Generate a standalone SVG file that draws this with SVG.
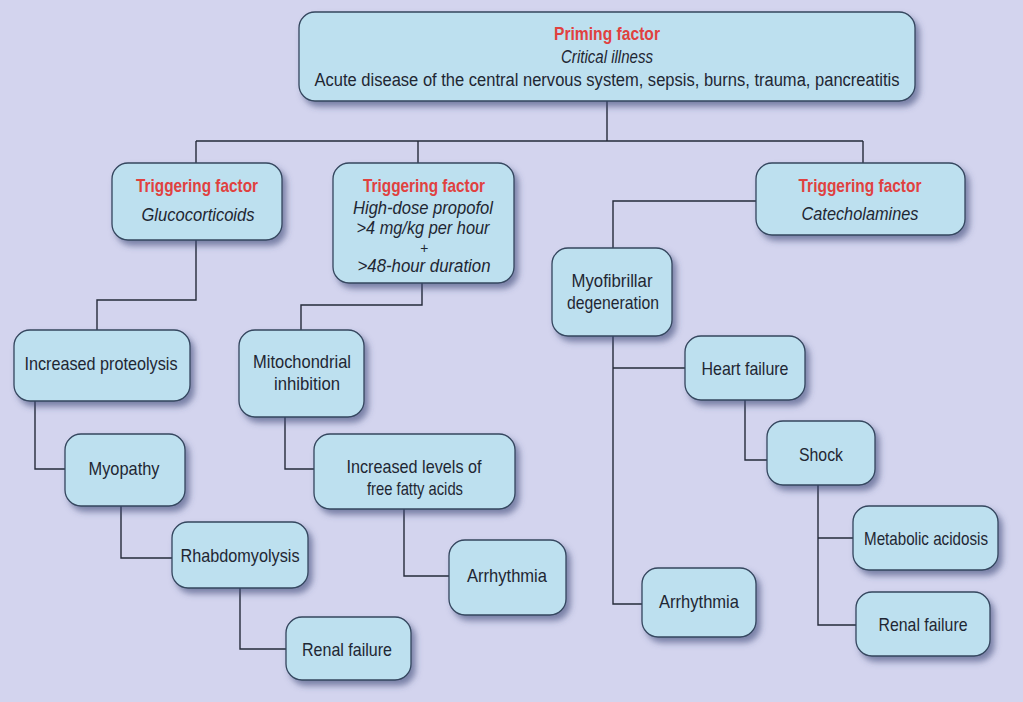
<svg xmlns="http://www.w3.org/2000/svg" width="1023" height="702" viewBox="0 0 1023 702">
<defs>
<filter id="sh" x="-20%" y="-20%" width="150%" height="160%">
<feDropShadow dx="4" dy="5" stdDeviation="3" flood-color="#3a4676" flood-opacity="0.6"/>
</filter>
<style>
.bg{fill:#d3d4ee}
.box{fill:#bde0ef;stroke:#34465e;stroke-width:1.3;filter:url(#sh)}
.ln{fill:none;stroke:#252b3a;stroke-width:1.4}
text{font-family:"Liberation Sans",Arial,sans-serif;font-size:19px;fill:#1f2733;text-anchor:middle}
.t{font-weight:bold;fill:#e0413f}
.i{font-style:italic}
.top{font-size:18px}
</style>
</defs>
<rect class="bg" x="0" y="0" width="1023" height="702"/>
<g id="connectors">
<path class="ln" d="M607,101 V141 M196,141 H863 M196,141 V163 M418,141 V163 M863,141 V163"/>
<path class="ln" d="M196,240 V300 H97 V330"/>
<path class="ln" d="M35,401 V469 H65"/>
<path class="ln" d="M121,506 V558 H172"/>
<path class="ln" d="M240,588 V649 H286"/>
<path class="ln" d="M422,283 V305 H301 V330"/>
<path class="ln" d="M285,417 V469 H314"/>
<path class="ln" d="M404,509 V576 H449"/>
<path class="ln" d="M756,201 H613 V248"/>
<path class="ln" d="M613,336 V604 H642 M613,368 H685"/>
<path class="ln" d="M745,400 V460 H767"/>
<path class="ln" d="M818,485 V625 H856 M818,538 H853"/>
</g>
<g id="priming">
<rect class="box" x="299" y="12" width="616" height="89" rx="16"/>
<text class="top t" x="607" y="40" textLength="106" lengthAdjust="spacingAndGlyphs">Priming factor</text>
<text class="top i" x="607" y="63" font-size="19" textLength="92" lengthAdjust="spacingAndGlyphs" style="font-size:19px">Critical illness</text>
<text class="top" x="607" y="86" textLength="585" lengthAdjust="spacingAndGlyphs">Acute disease of the central nervous system, sepsis, burns, trauma, pancreatitis</text>
</g>
<g id="glucocorticoids">
<rect class="box" x="112" y="163" width="170" height="77" rx="16"/>
<text class="t" x="197" y="192" textLength="122" lengthAdjust="spacingAndGlyphs">Triggering factor</text>
<text class="i" x="198" y="221" textLength="113" lengthAdjust="spacingAndGlyphs">Glucocorticoids</text>
</g>
<g id="propofol">
<rect class="box" x="333" y="163" width="181" height="120" rx="16"/>
<text class="t" x="424" y="192" textLength="122" lengthAdjust="spacingAndGlyphs">Triggering factor</text>
<text class="i" x="423" y="214" textLength="140" lengthAdjust="spacingAndGlyphs">High-dose propofol</text>
<text class="i" x="423" y="234" textLength="133" lengthAdjust="spacingAndGlyphs">&gt;4 mg/kg per hour</text>
<text class="i" x="424" y="253" style="font-size:14px">+</text>
<text class="i" x="424" y="272" textLength="133" lengthAdjust="spacingAndGlyphs">&gt;48-hour duration</text>
</g>
<g id="catecholamines">
<rect class="box" x="756" y="163" width="209" height="72" rx="16"/>
<text class="t" x="860" y="192" textLength="123" lengthAdjust="spacingAndGlyphs">Triggering factor</text>
<text class="i" x="860" y="220" textLength="117" lengthAdjust="spacingAndGlyphs">Catecholamines</text>
</g>
<g id="proteolysis">
<rect class="box" x="14" y="330" width="176" height="71" rx="16"/>
<text x="101" y="370" textLength="153" lengthAdjust="spacingAndGlyphs">Increased proteolysis</text>
</g>
<g id="myopathy">
<rect class="box" x="65" y="434" width="120" height="72" rx="16"/>
<text x="124" y="475" textLength="71" lengthAdjust="spacingAndGlyphs">Myopathy</text>
</g>
<g id="rhabdomyolysis">
<rect class="box" x="172" y="522" width="136" height="66" rx="16"/>
<text x="240" y="562" textLength="119" lengthAdjust="spacingAndGlyphs">Rhabdomyolysis</text>
</g>
<g id="renal-failure-left">
<rect class="box" x="286" y="617" width="125" height="63" rx="16"/>
<text x="347" y="656" textLength="90" lengthAdjust="spacingAndGlyphs">Renal failure</text>
</g>
<g id="mitochondrial">
<rect class="box" x="239" y="330" width="125" height="87" rx="16"/>
<text x="302" y="368" textLength="98" lengthAdjust="spacingAndGlyphs">Mitochondrial</text>
<text x="307" y="390" textLength="66" lengthAdjust="spacingAndGlyphs">inhibition</text>
</g>
<g id="fatty-acids">
<rect class="box" x="314" y="434" width="201" height="75" rx="16"/>
<text x="414" y="473" textLength="135" lengthAdjust="spacingAndGlyphs">Increased levels of</text>
<text x="415" y="495" textLength="96" lengthAdjust="spacingAndGlyphs">free fatty acids</text>
</g>
<g id="arrhythmia-mid">
<rect class="box" x="449" y="540" width="117" height="75" rx="16"/>
<text x="507" y="582" textLength="80" lengthAdjust="spacingAndGlyphs">Arrhythmia</text>
</g>
<g id="myofibrillar">
<rect class="box" x="552" y="248" width="120" height="88" rx="16"/>
<text x="612" y="287" textLength="81" lengthAdjust="spacingAndGlyphs">Myofibrillar</text>
<text x="613" y="309" textLength="92" lengthAdjust="spacingAndGlyphs">degeneration</text>
</g>
<g id="heart-failure">
<rect class="box" x="685" y="336" width="120" height="64" rx="16"/>
<text x="745" y="375" textLength="87" lengthAdjust="spacingAndGlyphs">Heart failure</text>
</g>
<g id="shock">
<rect class="box" x="767" y="421" width="108" height="64" rx="16"/>
<text x="821" y="461" textLength="44" lengthAdjust="spacingAndGlyphs">Shock</text>
</g>
<g id="arrhythmia-right">
<rect class="box" x="642" y="568" width="114" height="69" rx="16"/>
<text x="699" y="608" textLength="80" lengthAdjust="spacingAndGlyphs">Arrhythmia</text>
</g>
<g id="metabolic-acidosis">
<rect class="box" x="853" y="506" width="145" height="64" rx="16"/>
<text x="926" y="545" textLength="124" lengthAdjust="spacingAndGlyphs">Metabolic acidosis</text>
</g>
<g id="renal-failure-right">
<rect class="box" x="856" y="592" width="134" height="64" rx="16"/>
<text x="923" y="631" textLength="89" lengthAdjust="spacingAndGlyphs">Renal failure</text>
</g>
</svg>
